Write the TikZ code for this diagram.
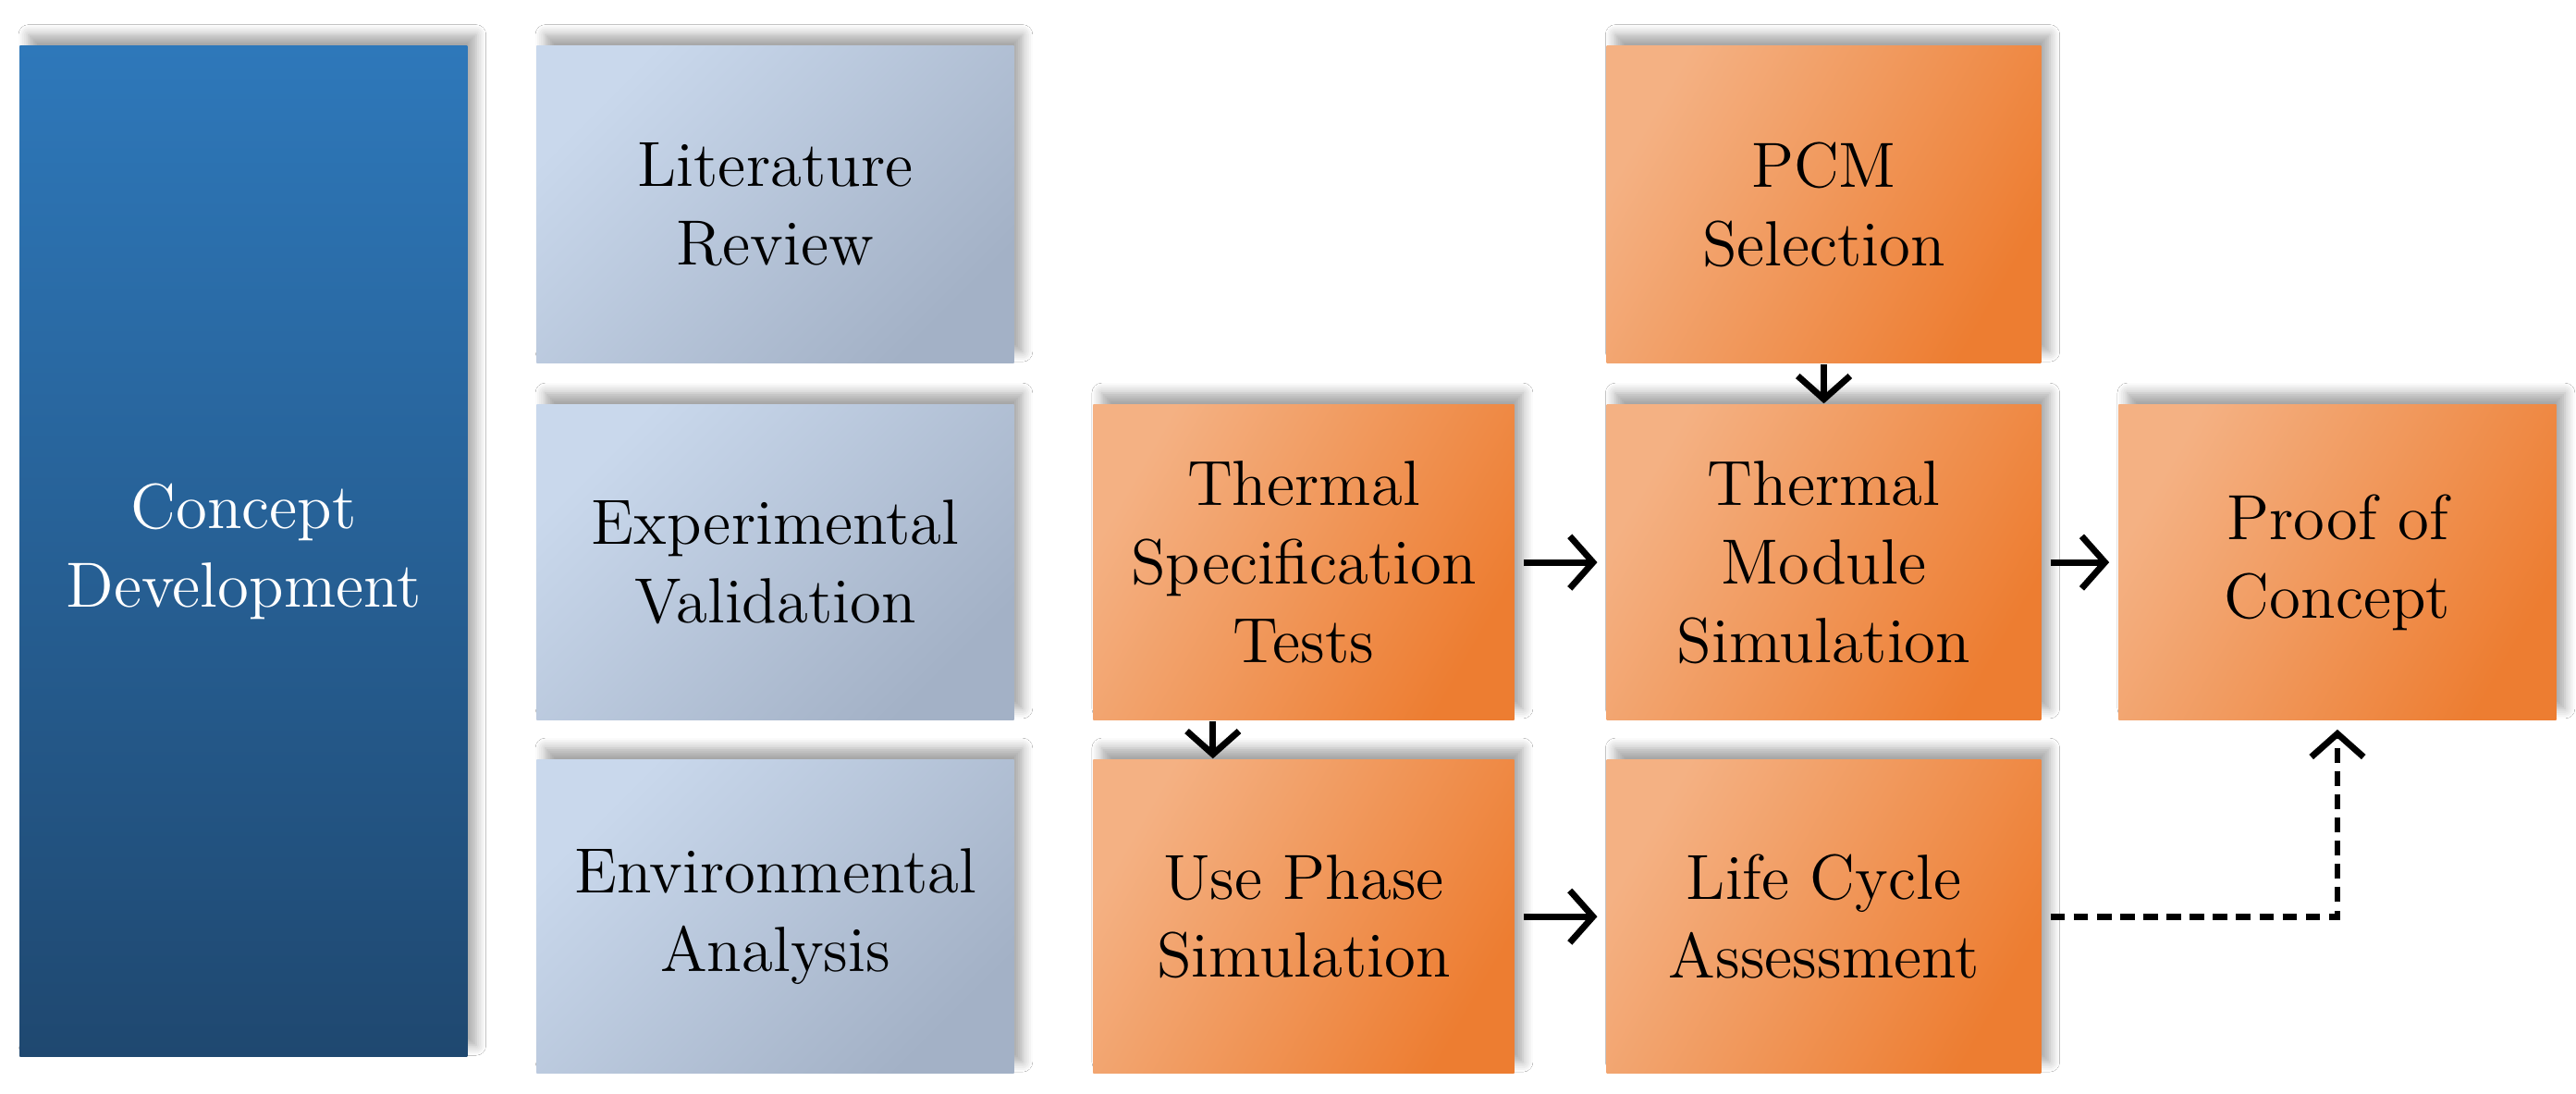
\documentclass[tikz,border=0pt]{standalone}
\usetikzlibrary{shadows.blur,arrows.meta}
\definecolor{bluehi}{HTML}{2E78BA}
\definecolor{bluelo}{HTML}{1F4870}
\definecolor{greyhi}{HTML}{C9D8EC}
\definecolor{greylo}{HTML}{A3B1C6}
\definecolor{orhi}{HTML}{F4B183}
\definecolor{orlo}{HTML}{ED7D31}
\begin{document}
\begin{tikzpicture}[
  every node/.style={font=\fontsize{11}{13.5}\selectfont, align=center, inner sep=0pt},
  base/.style={rectangle, draw=none, blur shadow={shadow xshift=1.5pt, shadow yshift=2pt, shadow blur steps=6, shadow opacity=35}},
  bluebox/.style={base, top color=bluehi, bottom color=bluelo, text=white},
  greybox/.style={base, left color=greyhi, right color=greylo, shading angle=45},
  orbox/.style={base, left color=orhi, right color=orlo, shading angle=60},
  arr/.style={-{Straight Barb[length=4pt,width=9pt]}, line width=1.1pt, black},
  dsh/.style={arr, dash pattern=on 2.5pt off 1.5pt}
]
\path[fill=white] (0,0) rectangle (15.6,-6.62);
\useasboundingbox (0,0) rectangle (15.6,-6.62);
\node[bluebox, minimum width=2.71cm, minimum height=6.12cm] (cd) at (1.475,-3.34) {Concept\\Development};
\node[greybox, minimum width=2.89cm, minimum height=1.92cm] (lr) at (4.695,-1.24) {Literature\\Review};
\node[greybox, minimum width=2.89cm, minimum height=1.91cm] (ev) at (4.695,-3.405) {Experimental\\Validation};
\node[greybox, minimum width=2.89cm, minimum height=1.90cm] (ea) at (4.695,-5.55) {Environmental\\Analysis};
\node[orbox, minimum width=2.63cm, minimum height=1.92cm] (pcm) at (11.045,-1.24) {PCM\\Selection};
\node[orbox, minimum width=2.55cm, minimum height=1.91cm] (tst) at (7.895,-3.405) {Thermal\\Specification\\Tests};
\node[orbox, minimum width=2.63cm, minimum height=1.91cm] (tms) at (11.045,-3.405) {Thermal\\Module\\Simulation};
\node[orbox, minimum width=2.65cm, minimum height=1.91cm] (poc) at (14.155,-3.405) {Proof of\\Concept};
\node[orbox, minimum width=2.55cm, minimum height=1.90cm] (ups) at (7.895,-5.55) {Use Phase\\Simulation};
\node[orbox, minimum width=2.63cm, minimum height=1.90cm] (lca) at (11.045,-5.55) {Life Cycle\\Assessment};
\draw[arr] ([xshift=0.5mm]tst.east) -- ([xshift=-0.5mm]tms.west);
\draw[arr] ([xshift=0.5mm]tms.east) -- ([xshift=-0.5mm]poc.west);
\draw[arr] (pcm.south) -- (tms.north);
\draw[arr] ([xshift=-0.55cm]tst.south) -- ([xshift=-0.55cm]ups.north);
\draw[arr] ([xshift=0.5mm]ups.east) -- ([xshift=-0.5mm]lca.west);
\coordinate (bend) at (poc.south |- lca.east);
\draw[dsh] ([xshift=0.5mm]lca.east) -- (bend) -- ([yshift=-0.5mm]poc.south);
\end{tikzpicture}
\end{document}
